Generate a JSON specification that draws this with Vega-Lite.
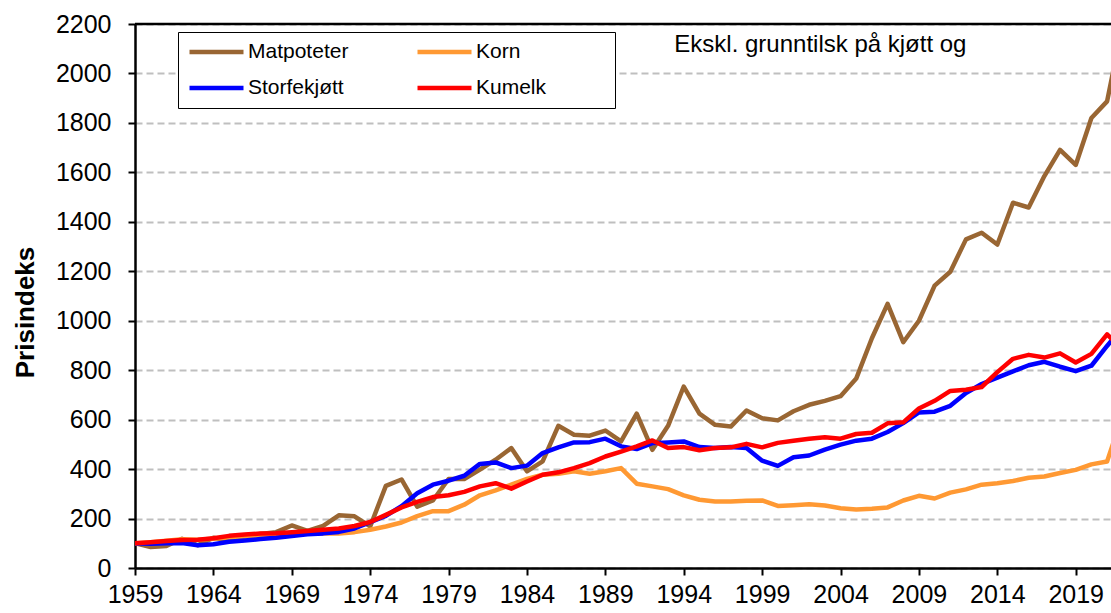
{
  "$schema": "https://vega.github.io/schema/vega-lite/v6.json",
  "width": 976,
  "height": 544,
  "autosize": {"type": "none"},
  "padding": {"left": 135, "top": 24, "right": 0, "bottom": 45},
  "background": "white",
  "config": {
    "font": "Liberation Sans",
    "view": {"stroke": null}
  },
  "layer": [
    {
      "data": {
        "values": [
          {"year": 1959, "Matpoteter": 100, "Korn": 100, "Storfekjøtt": 100, "Kumelk": 100},
          {"year": 1960, "Matpoteter": 85, "Korn": 104, "Storfekjøtt": 98, "Kumelk": 104},
          {"year": 1961, "Matpoteter": 89, "Korn": 110, "Storfekjøtt": 100, "Kumelk": 109},
          {"year": 1962, "Matpoteter": 118, "Korn": 116, "Storfekjøtt": 101, "Kumelk": 113},
          {"year": 1963, "Matpoteter": 92, "Korn": 114, "Storfekjøtt": 92, "Kumelk": 114},
          {"year": 1964, "Matpoteter": 122, "Korn": 118, "Storfekjøtt": 96, "Kumelk": 120},
          {"year": 1965, "Matpoteter": 110, "Korn": 124, "Storfekjøtt": 106, "Kumelk": 130},
          {"year": 1966, "Matpoteter": 128, "Korn": 128, "Storfekjøtt": 111, "Kumelk": 135},
          {"year": 1967, "Matpoteter": 138, "Korn": 132, "Storfekjøtt": 117, "Kumelk": 140},
          {"year": 1968, "Matpoteter": 145, "Korn": 135, "Storfekjøtt": 122, "Kumelk": 141},
          {"year": 1969, "Matpoteter": 172, "Korn": 139, "Storfekjøtt": 129, "Kumelk": 145},
          {"year": 1970, "Matpoteter": 150, "Korn": 140, "Storfekjøtt": 136, "Kumelk": 150},
          {"year": 1971, "Matpoteter": 170, "Korn": 141, "Storfekjøtt": 140, "Kumelk": 155},
          {"year": 1972, "Matpoteter": 213, "Korn": 140, "Storfekjøtt": 146, "Kumelk": 160},
          {"year": 1973, "Matpoteter": 209, "Korn": 145, "Storfekjøtt": 160, "Kumelk": 170},
          {"year": 1974, "Matpoteter": 168, "Korn": 155, "Storfekjøtt": 185, "Kumelk": 186},
          {"year": 1975, "Matpoteter": 332, "Korn": 168, "Storfekjøtt": 211, "Kumelk": 215},
          {"year": 1976, "Matpoteter": 358, "Korn": 184, "Storfekjøtt": 250, "Kumelk": 245},
          {"year": 1977, "Matpoteter": 248, "Korn": 210, "Storfekjøtt": 302, "Kumelk": 267},
          {"year": 1978, "Matpoteter": 273, "Korn": 230, "Storfekjøtt": 337, "Kumelk": 287},
          {"year": 1979, "Matpoteter": 360, "Korn": 230, "Storfekjøtt": 353, "Kumelk": 294},
          {"year": 1980, "Matpoteter": 360, "Korn": 256, "Storfekjøtt": 373, "Kumelk": 308},
          {"year": 1981, "Matpoteter": 398, "Korn": 294, "Storfekjøtt": 421, "Kumelk": 330},
          {"year": 1982, "Matpoteter": 438, "Korn": 314, "Storfekjøtt": 427, "Kumelk": 343},
          {"year": 1983, "Matpoteter": 485, "Korn": 337, "Storfekjøtt": 404, "Kumelk": 321},
          {"year": 1984, "Matpoteter": 391, "Korn": 360, "Storfekjøtt": 414, "Kumelk": 350},
          {"year": 1985, "Matpoteter": 431, "Korn": 377, "Storfekjøtt": 465, "Kumelk": 377},
          {"year": 1986, "Matpoteter": 575, "Korn": 381, "Storfekjøtt": 488, "Kumelk": 387},
          {"year": 1987, "Matpoteter": 539, "Korn": 391, "Storfekjøtt": 508, "Kumelk": 404},
          {"year": 1988, "Matpoteter": 535, "Korn": 381, "Storfekjøtt": 509, "Kumelk": 424},
          {"year": 1989, "Matpoteter": 556, "Korn": 391, "Storfekjøtt": 523, "Kumelk": 451},
          {"year": 1990, "Matpoteter": 512, "Korn": 404, "Storfekjøtt": 492, "Kumelk": 471},
          {"year": 1991, "Matpoteter": 624, "Korn": 341, "Storfekjøtt": 481, "Kumelk": 492},
          {"year": 1992, "Matpoteter": 478, "Korn": 330, "Storfekjøtt": 505, "Kumelk": 516},
          {"year": 1993, "Matpoteter": 575, "Korn": 319, "Storfekjøtt": 508, "Kumelk": 485},
          {"year": 1994, "Matpoteter": 734, "Korn": 294, "Storfekjøtt": 512, "Kumelk": 489},
          {"year": 1995, "Matpoteter": 624, "Korn": 276, "Storfekjøtt": 489, "Kumelk": 476},
          {"year": 1996, "Matpoteter": 579, "Korn": 269, "Storfekjøtt": 485, "Kumelk": 485},
          {"year": 1997, "Matpoteter": 572, "Korn": 269, "Storfekjøtt": 489, "Kumelk": 488},
          {"year": 1998, "Matpoteter": 637, "Korn": 272, "Storfekjøtt": 485, "Kumelk": 502},
          {"year": 1999, "Matpoteter": 606, "Korn": 273, "Storfekjøtt": 434, "Kumelk": 488},
          {"year": 2000, "Matpoteter": 597, "Korn": 251, "Storfekjøtt": 413, "Kumelk": 506},
          {"year": 2001, "Matpoteter": 634, "Korn": 254, "Storfekjøtt": 448, "Kumelk": 515},
          {"year": 2002, "Matpoteter": 660, "Korn": 258, "Storfekjøtt": 455, "Kumelk": 523},
          {"year": 2003, "Matpoteter": 676, "Korn": 253, "Storfekjøtt": 479, "Kumelk": 529},
          {"year": 2004, "Matpoteter": 695, "Korn": 242, "Storfekjøtt": 499, "Kumelk": 523},
          {"year": 2005, "Matpoteter": 766, "Korn": 237, "Storfekjøtt": 515, "Kumelk": 542},
          {"year": 2006, "Matpoteter": 929, "Korn": 240, "Storfekjøtt": 523, "Kumelk": 547},
          {"year": 2007, "Matpoteter": 1068, "Korn": 245, "Storfekjøtt": 550, "Kumelk": 585},
          {"year": 2008, "Matpoteter": 913, "Korn": 273, "Storfekjøtt": 586, "Kumelk": 589},
          {"year": 2009, "Matpoteter": 1000, "Korn": 292, "Storfekjøtt": 629, "Kumelk": 645},
          {"year": 2010, "Matpoteter": 1142, "Korn": 281, "Storfekjøtt": 632, "Kumelk": 676},
          {"year": 2011, "Matpoteter": 1198, "Korn": 305, "Storfekjøtt": 656, "Kumelk": 716},
          {"year": 2012, "Matpoteter": 1329, "Korn": 318, "Storfekjøtt": 708, "Kumelk": 721},
          {"year": 2013, "Matpoteter": 1356, "Korn": 337, "Storfekjøtt": 744, "Kumelk": 732},
          {"year": 2014, "Matpoteter": 1308, "Korn": 343, "Storfekjøtt": 770, "Kumelk": 792},
          {"year": 2015, "Matpoteter": 1477, "Korn": 352, "Storfekjøtt": 795, "Kumelk": 846},
          {"year": 2016, "Matpoteter": 1458, "Korn": 365, "Storfekjøtt": 820, "Kumelk": 862},
          {"year": 2017, "Matpoteter": 1585, "Korn": 370, "Storfekjøtt": 834, "Kumelk": 851},
          {"year": 2018, "Matpoteter": 1691, "Korn": 384, "Storfekjøtt": 814, "Kumelk": 868},
          {"year": 2019, "Matpoteter": 1630, "Korn": 397, "Storfekjøtt": 796, "Kumelk": 831},
          {"year": 2020, "Matpoteter": 1820, "Korn": 419, "Storfekjøtt": 818, "Kumelk": 866},
          {"year": 2021, "Matpoteter": 1887, "Korn": 431, "Storfekjøtt": 898, "Kumelk": 945},
          {"year": 2022, "Matpoteter": 2200, "Korn": 620, "Storfekjøtt": 974, "Kumelk": 885}
        ]
      },
      "transform": [
        {"fold": ["Matpoteter", "Korn", "Storfekjøtt", "Kumelk"], "as": ["series", "value"]}
      ],
      "mark": {"type": "line", "clip": true, "strokeWidth": 4.5, "strokeJoin": "round", "strokeCap": "round"},
      "encoding": {
        "x": {
          "field": "year",
          "type": "quantitative",
          "scale": {"domain": [1959, 2021.25], "nice": false, "zero": false},
          "axis": {
            "values": [1959, 1964, 1969, 1974, 1979, 1984, 1989, 1994, 1999, 2004, 2009, 2014, 2019],
            "format": "d",
            "title": null,
            "grid": false,
            "labelFontSize": 25,
            "labelFont": "Liberation Sans",
            "labelColor": "black",
            "labelFlush": false,
            "labelOverlap": false,
            "labelBound": false,
            "labelPadding": 7,
            "tickSize": 7,
            "tickWidth": 2,
            "tickColor": "black",
            "domainColor": "black",
            "domainWidth": 2.5
          }
        },
        "y": {
          "field": "value",
          "type": "quantitative",
          "scale": {"domain": [0, 2200], "nice": false},
          "axis": {
            "values": [0, 200, 400, 600, 800, 1000, 1200, 1400, 1600, 1800, 2000, 2200],
            "format": "d",
            "title": "Prisindeks",
            "titleFont": "Liberation Sans",
            "titleFontSize": 26,
            "titleFontWeight": "bold",
            "titleColor": "black",
            "titleX": -102,
            "titleY": 288,
            "titleBaseline": "alphabetic",
            "titleAlign": "center",
            "titleAngle": 270,
            "grid": true,
            "gridColor": "#BFBFBF",
            "gridWidth": 2,
            "gridDash": [7, 4],
            "labelFontSize": 25,
            "labelFont": "Liberation Sans",
            "labelColor": "black",
            "labelPadding": 17,
            "labelFlush": false,
            "labelOverlap": false,
            "tickSize": 7,
            "tickWidth": 2,
            "tickColor": "black",
            "domainColor": "black",
            "domainWidth": 2.5
          }
        },
        "color": {
          "field": "series",
          "type": "nominal",
          "scale": {
            "domain": ["Matpoteter", "Korn", "Storfekjøtt", "Kumelk"],
            "range": ["#996633", "#FF9933", "#0000FF", "#FF0000"]
          },
          "legend": {
            "orient": "none",
            "legendX": 43,
            "legendY": 8,
            "columns": 2,
            "direction": "horizontal",
            "title": "MMM",
            "titleOrient": "right",
            "titleAngle": 0,
            "titleColor": "white",
            "titlePadding": 7,
            "titleFontSize": 21,
            "titleFont": "Liberation Sans",
            "titleFontWeight": "normal",
            "symbolType": "stroke",
            "symbolSize": 2916,
            "symbolStrokeWidth": 4.5,
            "clipHeight": 22,
            "labelFontSize": 21,
            "labelFont": "Liberation Sans",
            "labelColor": "black",
            "labelOffset": 2,
            "labelLimit": 400,
            "columnPadding": 66,
            "rowPadding": 14,
            "padding": 9,
            "strokeColor": "black",
            "fillColor": "white"
          }
        }
      }
    },
    {
      "data": {"values": [{"top": 2200}]},
      "mark": {"type": "rule", "color": "black", "strokeWidth": 2.5},
      "encoding": {"y": {"field": "top", "type": "quantitative"}}
    },
    {
      "data": {"values": [{"year": 1993.4, "value": 2088, "note": "Ekskl. grunntilsk på kjøtt og"}]},
      "mark": {"type": "text", "align": "left", "baseline": "alphabetic", "fontSize": 24, "font": "Liberation Sans", "color": "black"},
      "encoding": {
        "x": {"field": "year", "type": "quantitative"},
        "y": {"field": "value", "type": "quantitative"},
        "text": {"field": "note"}
      }
    }
  ]
}
